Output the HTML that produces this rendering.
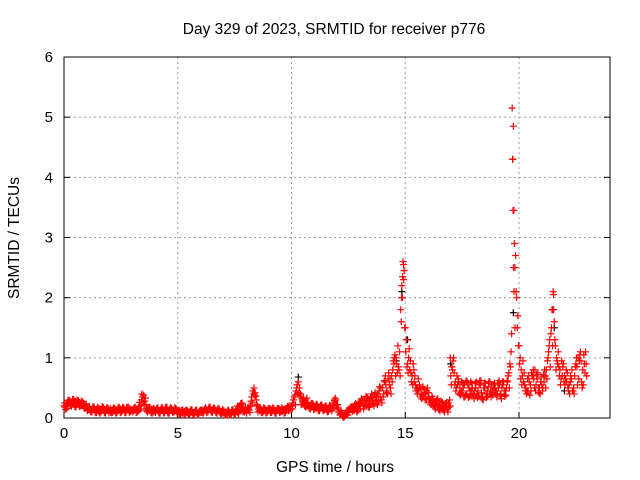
<!DOCTYPE html>
<html><head><meta charset="utf-8"><style>
body{margin:0;background:#fff}
svg{display:block;font-family:"Liberation Sans",sans-serif}
</style></head><body>
<svg id="chart" width="640" height="480" viewBox="0 0 640 480">
<rect width="640" height="480" fill="#fff"/>
<text x="334" y="34" font-size="15.5" text-anchor="middle">Day 329 of 2023, SRMTID for receiver p776</text>
<g id="grid"></g>
<g id="axes"></g>
<g id="black-series"></g>
<g id="red-series"></g>
<text x="335" y="472" font-size="15.5" text-anchor="middle">GPS time / hours</text>
<text transform="translate(19,238) rotate(-90)" font-size="15.5" text-anchor="middle">SRMTID / TECUs</text>
</svg>
<script>
const xTicks=[0,5,10,15,20];
const yTicks=[0,1,2,3,4,5,6];
const startHour=0, stepHour=0.1;
const valsA=[
.20,.22,.25,.27,.25,.28,.24,.26,.22,.20,
.17,.15,.14,.16,.13,.12,.15,.14,.11,.13,
.12,.13,.11,.14,.12,.15,.13,.12,.14,.16,
.14,.13,.15,.12,.30,.38,.22,.14,.13,.12,
.12,.14,.10,.13,.12,.15,.11,.13,.14,.12,
.10,.12,.08,.11,.09,.10,.12,.08,.10,.09,
.10,.12,.14,.13,.16,.12,.14,.11,.12,.10,
.08,.10,.07,.09,.12,.08,.10,.18,.22,.14,
.12,.15,.20,.45,.42,.20,.12,.14,.12,.13,
.12,.15,.13,.10,.12,.14,.11,.13,.15,.18,
.20,.30,.45,.60,.40,.25,.30,.22,.20,.18,
.20,.18,.16,.19,.15,.17,.14,.16,.20,.28,
.18,.10,.05,.04,.08,.12,.15,.18,.20,.15,
.20,.25,.30,.22,.28,.35,.25,.30,.40,.35,
.50,.60,.45,.55,.70,.90,1.0,.85,1.8,2.6,
1.5,.9,.8,.7,.6,.5,.45,.4,.35,.4,
.35,.30,.25,.20,.28,.22,.18,.15,.20,.25,
.70,.95,.60,.55,.50,.45,.55,.40,.50,.45,
.40,.50,.45,.55,.35,.50,.45,.40,.55,.48,
.45,.50,.40,.55,.45,.60,.9,5.15,2.9,2.0,
1.2,.8,.6,.5,.45,.55,.7,.8,.65,.5,
.55,.6,.8,1.1,1.4,2.1,1.2,.9,.8,.7,
.7,.6,.55,.65,.5,.9,1.0,1.1,.8,.75];
const valsB=[
.18,.24,.28,.23,.27,.22,.26,.20,.24,.18,
.19,.12,.16,.13,.15,.10,.13,.16,.12,.14,
.10,.14,.13,.12,.15,.12,.14,.16,.13,.12,
.12,.15,.13,.20,.35,.28,.16,.12,.15,.10,
.13,.11,.14,.12,.16,.10,.14,.12,.11,.13,
.11,.09,.10,.12,.08,.11,.09,.10,.08,.11,
.12,.11,.13,.15,.13,.14,.12,.13,.10,.11,
.09,.08,.11,.07,.10,.12,.09,.20,.16,.12,
.14,.13,.35,.50,.30,.15,.13,.11,.14,.12,
.14,.12,.11,.13,.15,.12,.14,.12,.20,.16,
.25,.38,.55,.50,.32,.28,.24,.20,.18,.22,
.17,.19,.15,.18,.16,.13,.18,.15,.25,.30,
.15,.07,.03,.06,.10,.14,.17,.12,.16,.22,
.28,.20,.25,.32,.22,.30,.38,.28,.45,.30,
.40,.55,.65,.50,.80,1.05,.75,1.10,2.2,2.45,
1.3,1.0,.75,.9,.55,.48,.5,.38,.42,.45,
.32,.27,.22,.25,.20,.17,.22,.18,.15,.30,
.85,.75,.50,.60,.42,.50,.38,.55,.45,.50,
.45,.38,.55,.42,.50,.40,.52,.45,.38,.50,
.40,.55,.50,.45,.50,.75,1.1,4.85,2.7,1.7,
1.0,.7,.55,.45,.6,.75,.65,.55,.5,.6,
.5,.7,.95,1.3,1.8,1.6,1.0,.85,.65,.9,
.65,.5,.6,.45,.7,.85,.95,.6,1.05,.9];
const valsC=[
.25,.16,.30,.20,.31,.18,.29,.21,.27,.16,
.12,.19,.10,.18,.09,.16,.10,.18,.08,.17,
.16,.09,.16,.09,.18,.10,.17,.09,.18,.11,
.10,.18,.10,.26,.40,.22,.12,.17,.09,.16,
.09,.17,.08,.17,.09,.18,.08,.16,.10,.16,
.13,.06,.13,.07,.12,.06,.14,.06,.13,.05,
.14,.08,.17,.10,.18,.09,.16,.08,.15,.07,
.12,.05,.13,.05,.14,.06,.20,.12,.25,.10,
.08,.18,.28,.40,.36,.10,.17,.09,.16,.09,
.16,.09,.16,.08,.16,.10,.15,.09,.19,.13,
.15,.35,.50,.42,.22,.33,.18,.26,.15,.24,
.15,.23,.12,.22,.12,.20,.11,.20,.16,.33,
.22,.05,.08,.02,.12,.09,.19,.14,.24,.12,
.15,.30,.20,.35,.18,.40,.20,.36,.28,.50,
.35,.70,.40,.65,.60,1.0,.90,.80,1.6,2.3,
1.1,.75,.95,.55,.7,.40,.55,.32,.48,.30,
.42,.22,.32,.15,.32,.12,.26,.10,.26,.18,
.55,1.0,.45,.65,.38,.58,.35,.60,.36,.58,
.32,.60,.36,.62,.30,.58,.36,.60,.42,.58,
.35,.62,.32,.60,.38,.70,.85,4.3,2.5,1.5,
.9,.55,.75,.40,.70,.45,.80,.45,.75,.40,
.45,.80,.65,1.2,1.5,1.8,.8,1.1,.55,.85,
.55,.75,.40,.80,.40,1.0,.65,.95,.55,1.1];
const valsD=[
.14,.29,.21,.31,.19,.30,.19,.28,.17,.23,
.14,.10,.19,.09,.18,.08,.19,.09,.17,.09,
.09,.17,.08,.17,.09,.18,.09,.18,.09,.14,
.17,.09,.18,.15,.25,.33,.10,.18,.08,.15,
.16,.08,.17,.08,.18,.08,.17,.09,.17,.08,
.06,.13,.06,.13,.05,.14,.06,.13,.05,.12,
.09,.15,.09,.18,.10,.17,.09,.16,.08,.14,
.05,.12,.05,.13,.06,.15,.07,.24,.10,.18,
.17,.09,.25,.38,.22,.18,.09,.17,.08,.16,
.09,.17,.08,.16,.09,.17,.08,.16,.12,.20,
.30,.22,.40,.35,.28,.20,.33,.16,.24,.14,
.22,.12,.21,.13,.20,.10,.21,.12,.30,.22,
.10,.12,.01,.09,.05,.17,.11,.22,.10,.26,
.32,.15,.36,.18,.33,.24,.42,.22,.52,.25,
.62,.42,.75,.40,.95,.70,1.2,.70,2.0,1.5,
.85,1.15,.60,.80,.45,.65,.35,.52,.30,.50,
.25,.36,.18,.30,.14,.28,.13,.24,.10,.20,
.80,.55,.70,.40,.60,.35,.62,.34,.60,.38,
.58,.34,.62,.32,.58,.34,.60,.35,.55,.40,
.58,.38,.60,.36,.62,.50,1.4,3.45,2.1,1.2,
.65,.95,.45,.65,.38,.70,.50,.72,.42,.68,
.72,.50,1.0,.85,1.2,1.3,.95,.70,.95,.60,
.80,.45,.70,.45,.85,.55,1.05,.50,.90,.70];
const extraHours=[19.72,19.74,19.76,19.78,19.82,14.88,14.92,14.84,21.52,21.48,17.05,16.98];
const extraVals=[4.3,3.45,2.5,2.1,1.5,2.35,2.55,2.0,2.05,1.8,0.85,1.0];
const blackHours=[10.3,14.85,15.1,19.75,21.55,22.0,17.0,14.6];
const blackVals=[0.68,2.1,1.3,1.75,1.5,0.45,0.9,0.95];

const X0=64,X1=610,Y0=418,Y1=57,XMAX=24,YMAX=6;
const xs=h=>X0+(h/XMAX)*(X1-X0);
const ys=v=>Y0-(v/YMAX)*(Y0-Y1);
const NS='http://www.w3.org/2000/svg';
function mk(tag,parent){const e=document.createElementNS(NS,tag);parent.appendChild(e);return e;}
const grid=document.getElementById('grid'),axes=document.getElementById('axes');
xTicks.forEach(t=>{
  if(t>0){const l=mk('line',grid);
  
  
  l.setAttribute('x1',xs(t));l.setAttribute('x2',xs(t));l.setAttribute('y1',Y1);l.setAttribute('y2',Y0);
  l.setAttribute('stroke','#a0a0a0');l.setAttribute('stroke-dasharray','2,3');}
  const tk=mk('line',axes);
  
  
  tk.setAttribute('x1',xs(t));tk.setAttribute('x2',xs(t));tk.setAttribute('y1',Y0);tk.setAttribute('y2',Y0-6);tk.setAttribute('stroke','#000');
  const tx=mk('text',axes);
  
  
  tx.setAttribute('x',xs(t));tx.setAttribute('y',Y0+20);tx.setAttribute('font-size','15');tx.setAttribute('text-anchor','middle');tx.textContent=t;
});
yTicks.forEach(t=>{
  if(t>0&&t<6){const l=mk('line',grid);
  
  
  l.setAttribute('x1',X0);l.setAttribute('x2',X1);l.setAttribute('y1',ys(t));l.setAttribute('y2',ys(t));
  l.setAttribute('stroke','#a0a0a0');l.setAttribute('stroke-dasharray','2,3');}
  [[X0,X0+6],[X1,X1-6]].forEach(p=>{const tk=mk('line',axes);
  
  
  tk.setAttribute('x1',p[0]);tk.setAttribute('x2',p[1]);tk.setAttribute('y1',ys(t));tk.setAttribute('y2',ys(t));tk.setAttribute('stroke','#000');});
  const tx=mk('text',axes);
  
  
  tx.setAttribute('x',X0-11);tx.setAttribute('y',ys(t)+5);tx.setAttribute('font-size','15');tx.setAttribute('text-anchor','end');tx.textContent=t;
});
const frame=mk('rect',axes);


frame.setAttribute('x',X0);frame.setAttribute('y',Y1);frame.setAttribute('width',X1-X0);frame.setAttribute('height',Y0-Y1);
frame.setAttribute('fill','none');frame.setAttribute('stroke','#000');
function plus(g,h,v,color){
  const x=xs(h),y=ys(v),p=mk('path',g);
  
  
  p.setAttribute('d',`M${x-3.5} ${y}H${x+3.5}M${x} ${y-3.5}V${y+3.5}`);
  p.setAttribute('stroke',color);p.setAttribute('stroke-width','1.2');
}
const bg=document.getElementById('black-series'),rg=document.getElementById('red-series');
blackHours.forEach((h,i)=>plus(bg,h,blackVals[i],'#000'));
valsA.forEach((v,i)=>plus(rg,startHour+i*stepHour,v,'#f00'));
valsB.forEach((v,i)=>plus(rg,startHour+i*stepHour+stepHour/2,v,'#f00'));
valsC.forEach((v,i)=>plus(rg,startHour+i*stepHour+stepHour/4,v,'#f00'));
valsD.forEach((v,i)=>plus(rg,startHour+i*stepHour+3*stepHour/4,v,'#f00'));
extraHours.forEach((h,i)=>plus(rg,h,extraVals[i],'#f00'));
</script>
</body></html>
